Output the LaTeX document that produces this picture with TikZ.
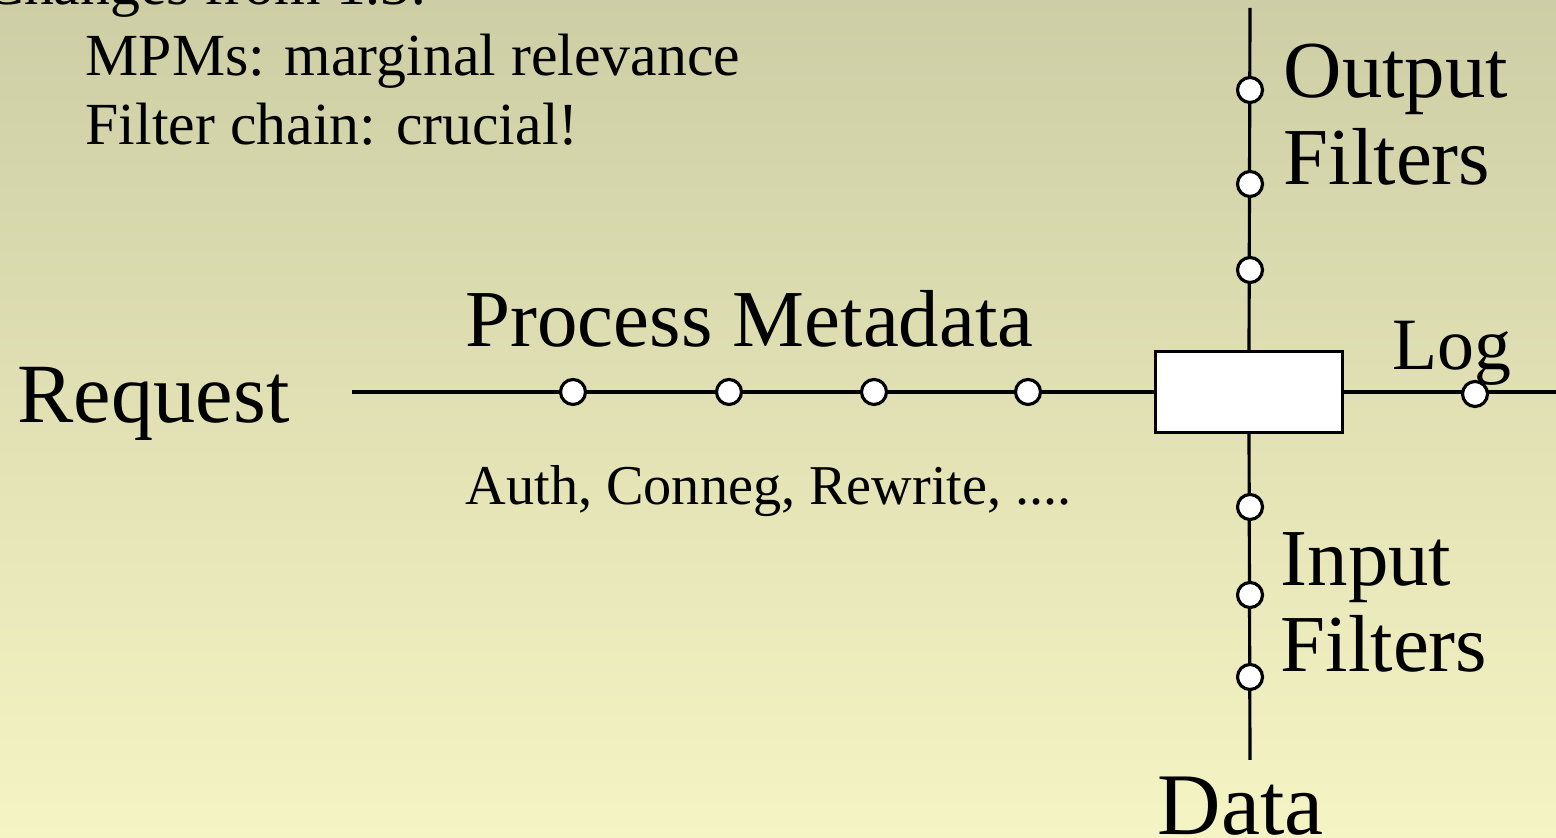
\documentclass[tikz,border=0pt]{standalone}
\usepackage{fontspec}
\setmainfont{Liberation Serif}
\definecolor{slidetop}{RGB}{205,206,165}
\definecolor{slidebot}{RGB}{245,244,196}
\tikzset{
  pipe/.style={line width=0.9pt},
  filter/.style={circle, draw, fill=white, line width=0.9pt, inner sep=0pt, minimum size=0.25cm},
  big/.style={font=\fontsize{23}{24.75}\selectfont, inner sep=0pt},
  small/.style={font=\fontsize{17}{19.9}\selectfont, inner sep=0pt}
}
\begin{document}
\begin{tikzpicture}
\useasboundingbox (0,0) rectangle (15.56,8.38);
\shade[top color=slidetop, bottom color=slidebot] (0,0) rectangle (15.56,8.38);
% notes in the corner
\node[small, anchor=base east] (changes) at (4.28,8.33) {Changes from 1.3:};
\node[small, anchor=base west, align=left] (notes) at (0.85,6.93) {MPMs: marginal relevance\\Filter chain: crucial!};
% the core box and the two pipes through it
\node[draw, fill=white, line width=0.9pt, minimum width=1.87cm, minimum height=0.81cm, inner sep=0pt] (core) at (12.49,4.46) {};
\coordinate (reqend) at (3.52,4.46);
\coordinate (logend) at (15.56,4.46);
\coordinate (top) at (12.50,8.30);
\coordinate (bot) at (12.50,0.78);
\draw[pipe] (reqend) -- (core.west);
\draw[pipe] (core.east) -- (logend);
\draw[pipe] (top) -- (core.north);
\draw[pipe] (core.south) -- (bot);
% filters
\foreach \x/\n in {5.73/m1, 7.29/m2, 8.74/m3, 10.28/m4}
  \node[filter] (\n) at (\x,4.46) {};
\foreach \y/\n in {7.48/o1, 6.54/o2, 5.68/o3}
  \node[filter] (\n) at (12.50,\y) {};
\foreach \y/\n in {3.31/i1, 2.43/i2, 1.61/i3}
  \node[filter] (\n) at (12.50,\y) {};
\node[filter] (log) at (14.75,4.44) {};
% labels
\node[big, font=\fontsize{24}{26}\selectfont, anchor=base west] (req) at (0.17,4.15) {Request};
\node[big, anchor=base west] (meta) at (4.65,4.91) {Process Metadata};
\node[big, font=\fontsize{16}{18}\selectfont, anchor=base west] (auth) at (4.65,3.33) {Auth, Conneg, Rewrite, ....};
\node[big, anchor=base west, align=left] (outf) at (12.83,6.53) {Output\\Filters};
\node[big, font=\fontsize{21}{23}\selectfont, anchor=base west] (loglbl) at (13.92,4.68) {Log};
\node[big, anchor=base west, align=left] (inf) at (12.80,1.66) {Input\\Filters};
\node[big, font=\fontsize{25}{27}\selectfont, anchor=base west] (data) at (11.57,0.03) {Data};
\end{tikzpicture}
\end{document}
